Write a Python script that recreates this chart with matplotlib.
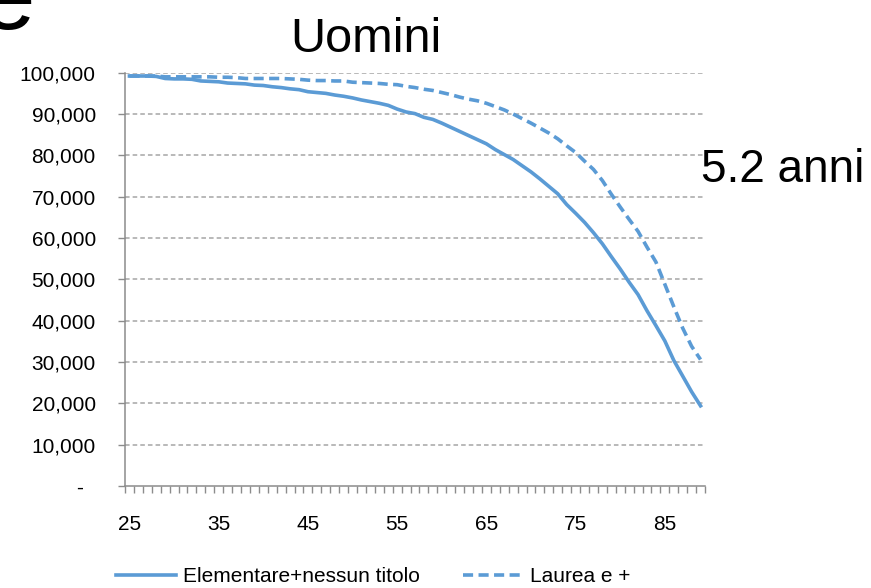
import matplotlib
matplotlib.use("Agg")
import matplotlib.pyplot as plt
from matplotlib.ticker import FixedLocator, FuncFormatter

# Sopravvivenza per età, uomini, per titolo di studio
eta = list(range(25, 90))

elementare = [
    99200, 99200, 99200, 99100, 98600, 98500, 98500, 98400, 98000, 97900,
    97800, 97500, 97400, 97300, 97000, 96900, 96600, 96400, 96100, 95900,
    95400, 95200, 95000, 94600, 94300, 93900, 93400, 93000, 92600, 92100,
    91200, 90500, 90100, 89200, 88700, 87800, 86800, 85800, 84800, 83800,
    82800, 81400, 80200, 79000, 77500, 76000, 74300, 72500, 70700, 68100,
    66000, 63800, 61300, 58600, 55500, 52500, 49300, 46300, 42400, 38800,
    35100, 30400, 26600, 22800, 19400,
]

laurea = [
    99200, 99200, 99200, 99200, 99000, 99000, 99000, 99000, 99000, 99000,
    98900, 98900, 98800, 98600, 98600, 98600, 98600, 98600, 98500, 98400,
    98200, 98100, 98100, 98000, 98000, 97700, 97600, 97500, 97400, 97200,
    97100, 96700, 96400, 96000, 95700, 95200, 94700, 94100, 93600, 93200,
    92600, 91800, 91000, 90000, 88900, 87800, 86600, 85400, 84000, 82300,
    80700, 78600, 76600, 73900, 70600, 67500, 64500, 61600, 57800, 54200,
    48800, 43400, 38200, 33800, 30600,
]

etichette_x = [25, 35, 45, 55, 65, 75, 85]
valori_y = [0, 10000, 20000, 30000, 40000, 50000, 60000, 70000, 80000, 90000, 100000]

plt.rcParams['font.family'] = ['Liberation Sans', 'DejaVu Sans']

W, H = 871, 588
fig = plt.figure(figsize=(W / 100, H / 100), dpi=100)
ax = fig.add_axes([125 / W, 1 - 486 / H, 580 / W, (486 - 72.7) / H])

blu = '#5B9BD5'
grigio = '#A6A6A6'

ax.plot(eta, elementare, color=blu, lw=2.6, label='Elementare+nessun titolo')
ax.plot(eta, laurea, color=blu, lw=2.6, dashes=(2.8, 1.5), label='Laurea e +')

ax.set_xlim(eta[0] - 0.5, eta[-1] + 0.5)
ax.set_ylim(0, 100000)

# griglia orizzontale tratteggiata
for v in valori_y[1:]:
    ax.axhline(v, color=grigio, lw=1.1, dashes=(3, 2), zorder=0)

for lato in ['top', 'right']:
    ax.spines[lato].set_visible(False)
for lato in ['left', 'bottom']:
    ax.spines[lato].set_color('#8C8C8C')
    ax.spines[lato].set_linewidth(1.1)

# asse x: tacche su ogni categoria, etichette ogni 10 anni
ax.xaxis.set_major_locator(FixedLocator(etichette_x))
ax.xaxis.set_minor_locator(FixedLocator([e - 0.5 for e in eta] + [eta[-1] + 0.5]))
ax.tick_params(axis='x', which='major', length=0, pad=21, labelsize=15)
ax.tick_params(axis='x', which='minor', length=5, width=1.0, color='#8C8C8C', direction='out')

ax.yaxis.set_major_locator(FixedLocator(valori_y))
ax.yaxis.set_major_formatter(FuncFormatter(lambda v, p: '-  ' if v == 0 else f'{v:,.0f}'))
ax.tick_params(axis='y', length=5, width=1.0, color='#8C8C8C', pad=16, labelsize=15)

fig.text(366 / W, 1 - 52 / H, 'Uomini', fontsize=35, ha='center', va='baseline')
fig.text(701 / W, 1 - 182 / H, '5.2 anni', fontsize=33, ha='left', va='baseline')
fig.text(-20 / W, 1 - 29 / H, 'e', fontsize=72, ha='left', va='baseline')

fig.legend(loc='center left', bbox_to_anchor=(116 / W, 1 - 577 / H),
           bbox_transform=fig.transFigure, ncol=2, frameon=False, fontsize=15,
           handlelength=2.9, handletextpad=0.3, columnspacing=2.1,
           borderpad=0, borderaxespad=0)

fig.savefig('out.png', dpi=100)
plt.close(fig)
